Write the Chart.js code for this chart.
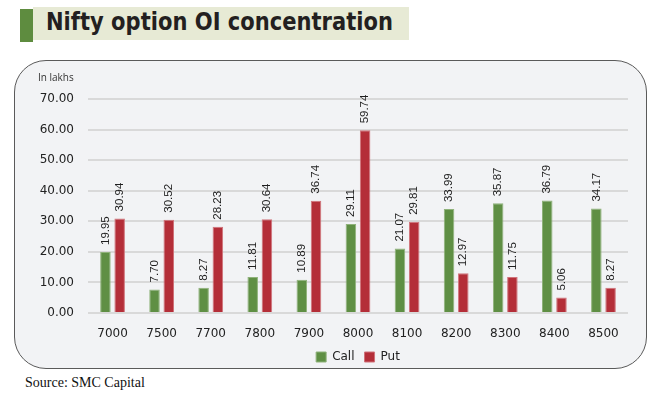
<!DOCTYPE html>
<html>
<head>
<meta charset="utf-8">
<script src="https://cdn.jsdelivr.net/npm/chart.js@4.4.1/dist/chart.umd.min.js"></script>
<style>
  body { margin: 0; width: 662px; height: 393px; background: #fff; position: relative; overflow: hidden; }
  .mark { position: absolute; left: 20px; top: 9px; width: 13px; height: 33px; background: #5e8c3f; }
  .banner { position: absolute; left: 33px; top: 7px; width: 376px; height: 33px; background: #e7ead5; }
  #title { position: absolute; left: 46px; top: 7px; font: bold 25px "DejaVu Sans"; color: #231f20;
           white-space: nowrap; transform-origin: 0 0; }
  .box { position: absolute; left: 14px; top: 60px; width: 631px; height: 307px; border: 1.5px solid #5a5a5a;
         border-radius: 32px; background: #f2f3f5; }
  #chart { position: absolute; left: 14px; top: 60px; }
  .source { position: absolute; left: 25px; top: 375px; font: 14px "Liberation Serif"; color: #111; }
</style>
</head>
<body>
<div class="mark"></div>
<div class="banner"></div>
<div id="title">Nifty option OI concentration</div>
<div class="box"></div>
<canvas id="chart" width="634" height="313"></canvas>
<div class="source">Source: SMC Capital</div>
<script>
const strikes = ["7000", "7500", "7700", "7800", "7900", "8000", "8100", "8200", "8300", "8400", "8500"];
const callOI = [19.95, 7.70, 8.27, 11.81, 10.89, 29.11, 21.07, 33.99, 35.87, 36.79, 34.17];
const putOI = [30.94, 30.52, 28.23, 30.64, 36.74, 59.74, 29.81, 12.97, 11.75, 5.06, 8.27];
const yTicks = [0, 10, 20, 30, 40, 50, 60, 70];

// fit title to the banner width
const t = document.getElementById("title");
t.style.transform = "scaleX(" + (347 / t.offsetWidth) + ")";

// values written upright above each bar
const barLabels = {
    id: "barLabels",
    afterDatasetsDraw(chart) {
        const ctx = chart.ctx;
        ctx.save();
        ctx.font = "11.5px 'Liberation Sans'";
        ctx.fillStyle = "#1e1e1e";
        ctx.textAlign = "left";
        ctx.textBaseline = "middle";
        chart.data.datasets.forEach((ds, i) => {
            chart.getDatasetMeta(i).data.forEach((bar, j) => {
                ctx.save();
                ctx.translate(bar.x, bar.y - 7);
                ctx.rotate(-Math.PI / 2);
                ctx.fillText(ds.data[j].toFixed(2), 0, 0);
                ctx.restore();
            });
        });
        ctx.restore();
    }
};

new Chart(document.getElementById("chart"), {
    type: "bar",
    data: {
        labels: strikes,
        datasets: [
            { label: "Call", data: callOI, backgroundColor: "#5f8f44", borderColor: "#8fb27a", borderWidth: 1 },
            { label: "Put", data: putOI, backgroundColor: "#b42e38", borderColor: "#d0737a", borderWidth: 1 }
        ]
    },
    options: {
        responsive: false,
        animation: false,
        devicePixelRatio: 1,
        categoryPercentage: 0.58,
        barPercentage: 0.74,
        layout: { padding: { left: 24, right: 20, top: 12, bottom: 0 } },
        plugins: {
            title: {
                display: true, text: "In lakhs", align: "start",
                font: { family: "Open Sans", size: 10, weight: "normal" }, color: "#333",
                padding: { top: 0, bottom: 15 }
            },
            legend: {
                position: "bottom",
                fullSize: false,
                labels: { boxWidth: 10, boxHeight: 10, padding: 10, color: "#222",
                          font: { family: "DejaVu Sans", size: 12 } }
            },
            tooltip: { enabled: false }
        },
        scales: {
            x: {
                afterFit(scale) { scale.height = 28; },
                grid: { display: false, drawTicks: false },
                border: { display: false },
                ticks: { color: "#222", padding: 14, font: { family: "DejaVu Sans", size: 12 } }
            },
            y: {
                min: 0, max: 70,
                afterFit(scale) { scale.width = 50; },
                afterBuildTicks(scale) { scale.ticks = yTicks.map(v => ({ value: v })); },
                grid: { color: "#d9d9d9", lineWidth: 2, drawTicks: false },
                border: { display: false },
                ticks: { color: "#222", padding: 14, font: { family: "DejaVu Sans", size: 12 },
                         callback: v => v.toFixed(2) }
            }
        }
    },
    plugins: [barLabels]
});
</script>
</body>
</html>
